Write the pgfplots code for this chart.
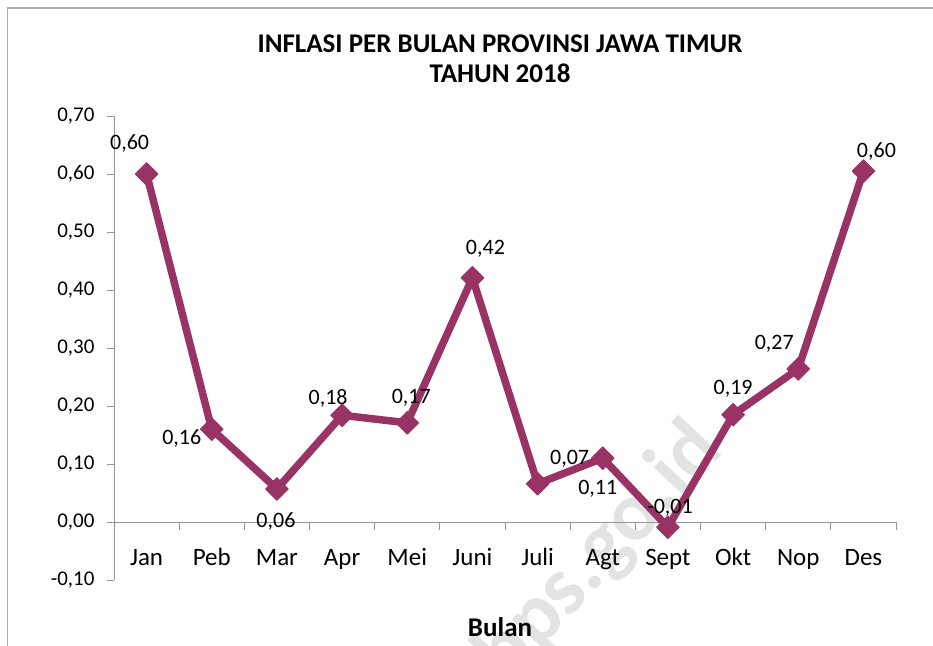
\documentclass[border=0pt]{standalone}
\usepackage{pgfplots}
\pgfplotsset{compat=1.18}
\usepackage{pgfplotstable}
\usepackage{fontspec}
\setmainfont{Carlito}
\definecolor{plum}{HTML}{993366}
\definecolor{axgray}{HTML}{969696}

\pgfplotstableread{
x y lbl dx dy
1 0.600 {0,60} -17 31
2 0.160 {0,16} -30 -9
3 0.057 {0,06} -1 -33
4 0.184 {0,18} -14 17
5 0.171 {0,17} 4 25
6 0.421 {0,42} 13 29
7 0.066 {0,07} 32 25
8 0.110 {0,11} -5 -31
9 -0.009 {-0,01} 2 19
10 0.185 {0,19} 0 26
11 0.264 {0,27} -24 25
12 0.605 {0,60} 13 20
}\datatable

\begin{document}
\begin{tikzpicture}[x=1pt,y=1pt]
\useasboundingbox (0,0) rectangle (933,645);
% outer chart frame
\draw[axgray!80, line width=1.2pt] (7.5,-10) -- (7.5,637) -- (945,637);
% watermark
\node[rotate=47, text=black!11, font=\bfseries\fontsize{84}{90}\selectfont] at (600,92) {bps.go.id};
% title
\node[align=center, font=\bfseries\fontsize{27}{30}\selectfont] at (500,586) {INFLASI PER BULAN PROVINSI JAWA TIMUR\\TAHUN 2018};
% x label
\node[font=\bfseries\fontsize{27}{30}\selectfont] at (500,18) {Bulan};
\begin{axis}[
  at={(114pt,65pt)}, anchor=south west,
  scale only axis, width=782pt, height=464pt,
  xmin=0.5, xmax=12.5, ymin=-0.1, ymax=0.7,
  axis x line=middle, axis y line=left,
  axis line style={-, draw=axgray, line width=1pt},
  every tick/.style={draw=axgray, line width=1pt},
  xtick={1,...,12},
  xticklabels={Jan,Peb,Mar,Apr,Mei,Juni,Juli,Agt,Sept,Okt,Nop,Des},
  major x tick style={draw=none},
  minor xtick={0.5,1.5,...,12.5},
  xtick align=outside,
  ytick={-0.1,0,...,0.7},
  ytick align=outside, ytick pos=left,
  major tick length=7pt, minor tick length=8pt,
  xticklabel style={anchor=base, yshift=-36pt, font=\fontsize{25}{28}\selectfont},
  yticklabel style={font=\fontsize{21}{24}\selectfont, xshift=-9pt},
  /pgf/number format/assume math mode=true,
  yticklabel={\pgfmathprintnumber[fixed, fixed zerofill, precision=2, use comma]{\tick}},
  clip=false,
]
\addplot[color=plum, line width=7.5pt, line join=round,
  mark=square*, mark size=8pt, mark options={rotate=45, line width=1pt, solid},
  nodes near coords, point meta=explicit symbolic,
  visualization depends on={\thisrow{dx} \as \dx},
  visualization depends on={\thisrow{dy} \as \dy},
  nodes near coords style={anchor=center, xshift=\dx pt, yshift=\dy pt, text=black, font=\fontsize{22}{26}\selectfont},
] table[x=x, y=y, meta=lbl] {\datatable};
\end{axis}
\end{tikzpicture}
\end{document}
